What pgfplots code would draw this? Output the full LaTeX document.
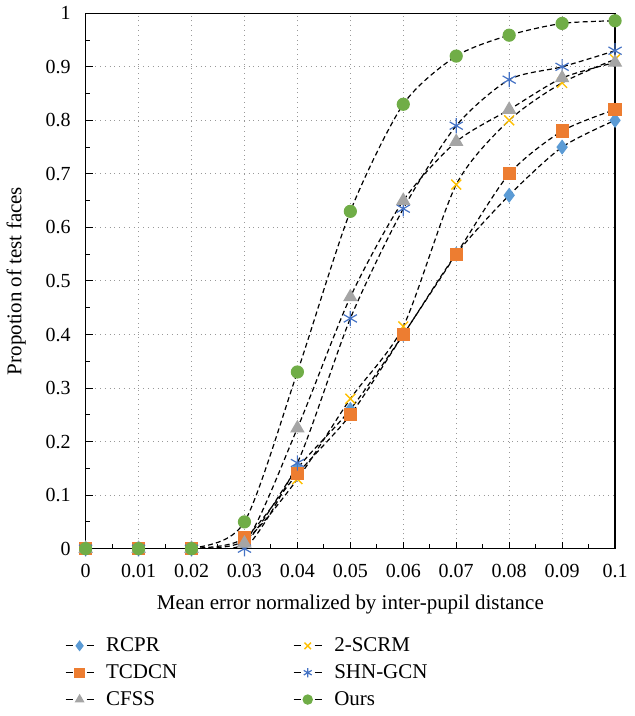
\documentclass[border=0pt]{standalone}
\usepackage{pgfplots}
\pgfplotsset{compat=1.18}
\usepackage{fontspec}
\setmainfont{Liberation Serif}
\definecolor{cRCPR}{HTML}{5B9BD5}
\definecolor{cTCDCN}{HTML}{ED7D31}
\definecolor{cCFSS}{HTML}{A5A5A5}
\definecolor{cSCRM}{HTML}{FFC000}
\definecolor{cSHN}{HTML}{4472C4}
\definecolor{cOurs}{HTML}{70AD47}
\begin{document}
\begin{tikzpicture}
\begin{axis}[
scale only axis,width=265pt,height=268pt,
xmin=0,xmax=0.1,ymin=0,ymax=1,
xtick={0,0.01,...,0.1},
xticklabels={0,0.01,0.02,0.03,0.04,0.05,0.06,0.07,0.08,0.09,0.1},
ytick={0,0.1,...,1},
yticklabels={0,0.1,0.2,0.3,0.4,0.5,0.6,0.7,0.8,0.9,1},
minor x tick num=1,minor y tick num=1,
tick align=inside,xtick pos=bottom,ytick pos=left,
major tick length=3.5pt,minor tick length=2.2pt,
grid=major,major grid style={gray!80,dotted,line width=0.5pt},
axis line style={line width=0.6pt},
every tick/.style={black,line width=0.5pt},
tick label style={font=\fontsize{10}{12}\selectfont},
xticklabel style={yshift=-4pt},
yticklabel style={xshift=-4pt},
label style={font=\fontsize{10.5}{12}\selectfont},
xlabel={Mean error normalized by inter-pupil distance},
ylabel={Propotion of test faces},
xlabel style={yshift=-2pt},
ylabel style={yshift=3pt},
legend columns=2,legend cell align=left,
legend style={draw=none,at={(-0.051,-0.15)},anchor=north west,
  font=\fontsize{10.5}{13}\selectfont,row sep=1pt,
  /tikz/every odd column/.append style={column sep=4pt},
  /tikz/every even column/.append style={column sep=56pt}},
legend image code/.code={
  \draw[black,solid,line width=0.6pt] (0pt,0pt)--(3.5pt,0pt);
  \draw[black,solid,line width=0.6pt] (10.5pt,0pt)--(14pt,0pt);
  \draw[#1,mark size=2.3pt] plot coordinates {(7pt,0pt)};},
every axis plot/.append style={black,dash pattern=on 2.5pt off 1.6pt,line width=0.6pt,smooth,tension=0.45},
]
\addplot[mark=diamond*,mark size=3.3pt,mark options={solid,draw=cRCPR,fill=cRCPR}]
coordinates {(0,0)(0.01,0)(0.02,0)(0.03,0.01)(0.04,0.15)(0.05,0.26)(0.06,0.40)(0.07,0.55)(0.08,0.66)(0.09,0.75)(0.1,0.80)};
\addlegendentry{RCPR}
\addplot[mark=x,mark size=3.5pt,mark options={solid,draw=cSCRM,line width=0.7pt}]
coordinates {(0,0)(0.01,0)(0.02,0)(0.03,0.015)(0.04,0.13)(0.05,0.28)(0.06,0.415)(0.07,0.68)(0.08,0.80)(0.09,0.87)(0.1,0.914)};
\addlegendentry{2-SCRM}
\addplot[mark=square*,mark size=3pt,mark options={solid,draw=cTCDCN,fill=cTCDCN}]
coordinates {(0,0)(0.01,0)(0.02,0)(0.03,0.02)(0.04,0.14)(0.05,0.25)(0.06,0.40)(0.07,0.55)(0.08,0.70)(0.09,0.78)(0.1,0.82)};
\addlegendentry{TCDCN}
\addplot[mark=asterisk,mark size=3.8pt,mark options={solid,draw=cSHN,line width=0.6pt}]
coordinates {(0,0)(0.01,0)(0.02,0)(0.03,0)(0.04,0.16)(0.05,0.43)(0.06,0.635)(0.07,0.79)(0.08,0.876)(0.09,0.90)(0.1,0.93)};
\addlegendentry{SHN-GCN}
\addplot[mark=triangle*,mark size=3.6pt,mark options={solid,draw=cCFSS,fill=cCFSS}]
coordinates {(0,0)(0.01,0)(0.02,0)(0.03,0.01)(0.04,0.225)(0.05,0.47)(0.06,0.65)(0.07,0.76)(0.08,0.82)(0.09,0.879)(0.1,0.908)};
\addlegendentry{CFSS}
\addplot[mark=*,mark size=3pt,mark options={solid,draw=cOurs,fill=cOurs}]
coordinates {(0,0)(0.01,0)(0.02,0)(0.03,0.05)(0.04,0.33)(0.05,0.63)(0.06,0.83)(0.07,0.92)(0.08,0.959)(0.09,0.981)(0.1,0.986)};
\addlegendentry{Ours}
\end{axis}
\end{tikzpicture}
\end{document}
